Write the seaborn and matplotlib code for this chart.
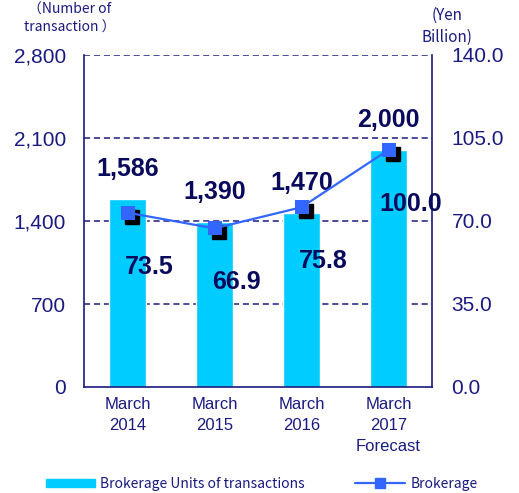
import numpy as np
import pandas as pd
import seaborn as sns
import matplotlib.pyplot as plt
from matplotlib.transforms import offset_copy
from matplotlib.patches import Patch
from matplotlib.lines import Line2D
from matplotlib.ticker import FuncFormatter, FixedLocator

# data
categories = ["March\n2014", "March\n2015", "March\n2016", "March\n2017\nForecast"]
units = [1586, 1390, 1470, 2000]
brokerage = [73.5, 66.9, 75.8, 100.0]
unit_labels = ["1,586", "1,390", "1,470", "2,000"]
brokerage_labels = ["73.5", "66.9", "75.8", "100.0"]

navy = "#1a1a80"
dark = "#0a0a5c"
bar_color = "#00CCFF"
line_color = "#3366FF"

sns.set_style("white")
plt.rcParams['font.family'] = ['Liberation Sans', 'DejaVu Sans']

df = pd.DataFrame({"period": categories, "units": units})

fig = plt.figure(figsize=(5.19, 4.93), dpi=100)
ax = fig.add_axes([84 / 519, 1 - 387 / 493, 348 / 519, 332 / 493])

sns.barplot(data=df, x="period", y="units", color=bar_color, saturation=1,
            width=0.42, ax=ax, zorder=2)
ax.set_xlim(-0.5, 3.5)
ax.set_ylim(0, 2800)
ax.set_yticks([0, 700, 1400, 2100, 2800])
ax.yaxis.set_major_formatter(FuncFormatter(lambda v, p: f"{int(v):,}"))
ax.set_xlabel("")
ax.set_ylabel("")
for y in [700, 1400, 2100, 2800]:
    ax.axhline(y, color=navy, lw=1.1, ls=(0, (4, 2.5)), zorder=1)

ax.tick_params(axis="y", length=0, pad=13, labelsize=15, labelcolor=navy)
ax.tick_params(axis="x", length=0, pad=7, labelsize=12, labelcolor=navy)
for lab in ax.get_xticklabels():
    lab.set_linespacing(1.5)
ax.xaxis.set_minor_locator(FixedLocator([0.5, 1.5, 2.5]))
ax.tick_params(axis="x", which="minor", direction="in", length=4, color=navy)

for side in ["left", "right", "bottom"]:
    ax.spines[side].set_color(navy)
    ax.spines[side].set_linewidth(1.2)
ax.spines["top"].set_visible(False)

ax2 = ax.twinx()
ax2.set_ylim(0, 140)
ax2.set_yticks([0, 35, 70, 105, 140])
ax2.yaxis.set_major_formatter(FuncFormatter(lambda v, p: f"{v:.1f}"))
ax2.tick_params(axis="y", length=0, pad=14, labelsize=15, labelcolor=navy)
for side in ["left", "right", "bottom", "top"]:
    ax2.spines[side].set_visible(False)

xs = np.arange(len(brokerage))
shadow = offset_copy(ax2.transData, fig=fig, x=4, y=-4, units="dots")
ax2.plot(xs, brokerage, ls="none", marker="s", ms=10, color="black",
         transform=shadow, zorder=3)
ax2.plot(xs, brokerage, color=line_color, lw=1.6, marker="s", ms=10,
         markeredgewidth=0, zorder=4)

for x, v, t in zip(xs, units, unit_labels):
    ax.annotate(t, (x, v), xytext=(0, 30), textcoords="offset pixels",
                ha="center", va="center", fontsize=18, fontweight="bold",
                color=dark, zorder=5)
for x, v, t in zip(xs, brokerage, brokerage_labels):
    ax2.annotate(t, (x, v), xytext=(22, -54), textcoords="offset pixels",
                 ha="center", va="center", fontsize=18, fontweight="bold",
                 color=dark, zorder=5)

cjk = ['Noto Sans CJK JP', 'DejaVu Sans']
fig.text(70 / 519, 1 - 10 / 493, "（Number of", ha="center", va="center",
         fontsize=10, color=navy, family=cjk)
fig.text(70 / 519, 1 - 28 / 493, "transaction ）", ha="center", va="center",
         fontsize=10, color=navy, family=cjk)
fig.text(447 / 519, 1 - 15 / 493, "(Yen", ha="center", va="center",
         fontsize=11, color=navy, family=cjk)
fig.text(447 / 519, 1 - 37 / 493, "Billion)", ha="center", va="center",
         fontsize=11, color=navy, family=cjk)

leg1 = fig.legend(handles=[Patch(color=bar_color)],
                  labels=["Brokerage Units of transactions"],
                  loc="center left", bbox_to_anchor=(46 / 519, 9 / 493),
                  frameon=False, handlelength=3.5, handleheight=0.5,
                  handletextpad=0.4, borderpad=0, borderaxespad=0,
                  prop={"family": cjk, "size": 10}, labelcolor=navy)
leg2 = fig.legend(handles=[Line2D([], [], color=line_color, lw=1.6, marker="s", ms=7)],
                  labels=["Brokerage"],
                  loc="center left", bbox_to_anchor=(355 / 519, 9 / 493),
                  frameon=False, handlelength=3.6, handletextpad=0.4,
                  borderpad=0, borderaxespad=0,
                  prop={"family": cjk, "size": 10}, labelcolor=navy)

fig.savefig("out.png", dpi=100)
